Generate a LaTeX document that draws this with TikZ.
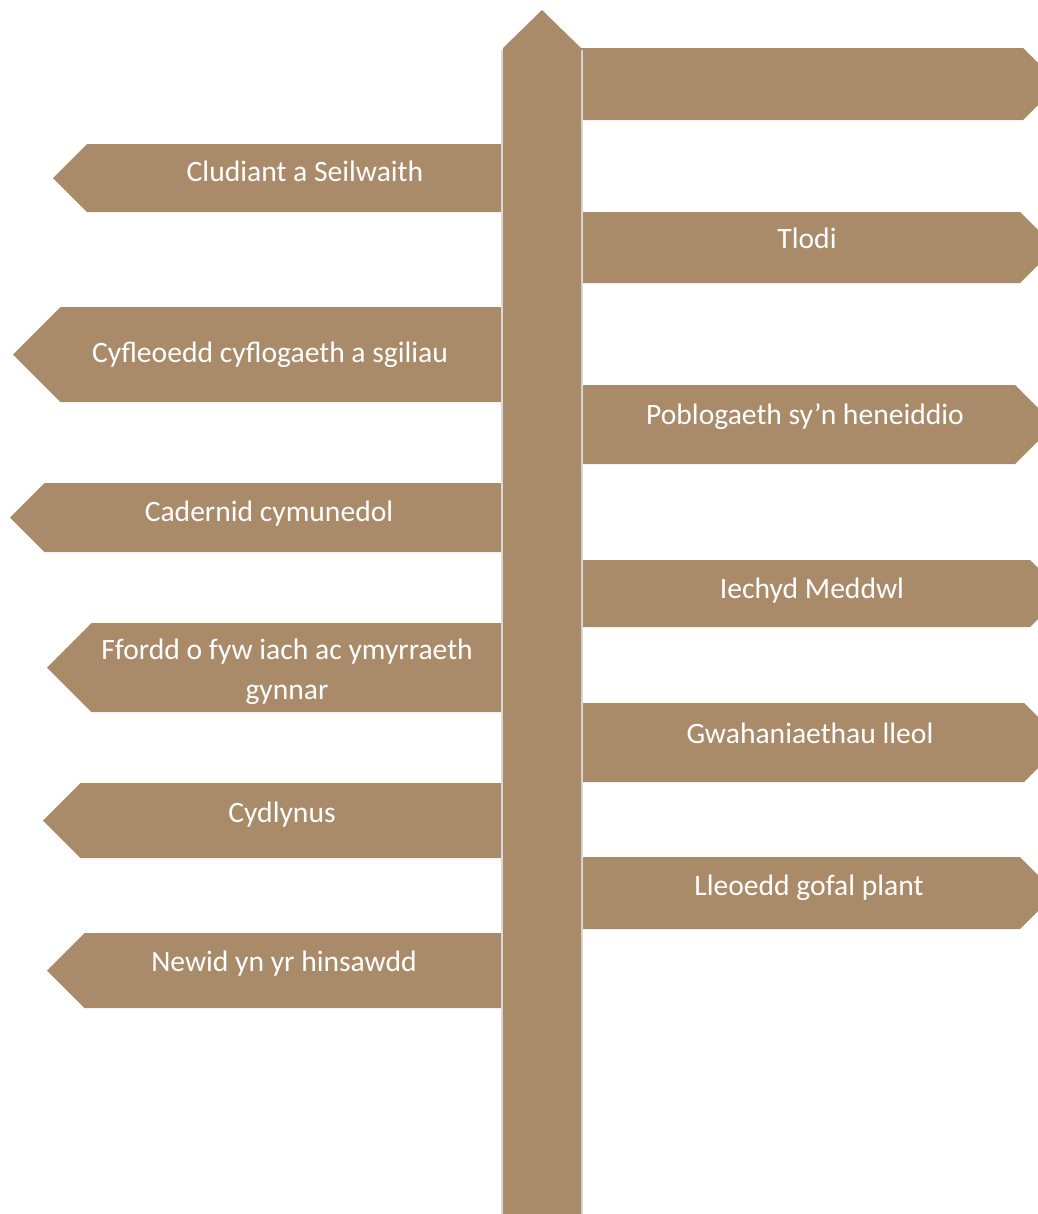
\documentclass[tikz,border=0pt]{standalone}
\usepackage{fontspec}
\setmainfont{Carlito}
\definecolor{post}{RGB}{169,139,106}
% sign pointing west: top, bottom, tip x
\newcommand{\signW}[3]{\fill[post] (520,#1) -- ({#3+(#2-#1)/2},#1) -- (#3,{(#1+#2)/2}) -- ({#3+(#2-#1)/2},#2) -- (520,#2) -- cycle;}
% sign pointing east: top, bottom, corner x
\newcommand{\signE}[3]{\fill[post] (560,#1) -- (#3,#1) -- ({#3+(#2-#1)/2},{(#1+#2)/2}) -- (#3,#2) -- (560,#2) -- cycle;}

\begin{document}
\begin{tikzpicture}
                [
                x=0.75pt,y=-0.75pt,
                signtext/.style={text=white,inner sep=0pt,font=\fontsize{22.2pt}{30pt}\selectfont},
                poleshadow/.style={draw=black!15,line width=1.8pt},
                ]
                \useasboundingbox (0,0) rectangle (1038,1214);
                \clip (0,0) rectangle (1038,1214);
                \signW{144}{212}{53}	\signW{307}{402}{13}	\signW{483}{552}{10}
                \signW{623}{712}{47}	\signW{783}{858}{43}	\signW{933}{1008}{47}
                \signE{48}{120}{1023}	\signE{212}{283}{1020}	\signE{385}{464}{1015}
                \signE{560}{627}{1030}	\signE{703}{782}{1024}	\signE{857}{929}{1020}
                % pole
                \draw[poleshadow] (502.5,50) -- (502.5,1214);
                \draw[poleshadow] (581.5,50) -- (581.5,1214);
                \fill[post] (503,1214) -- (503,48) -- (542,10) -- (581,48) -- (581,1214) -- cycle;
                % labels
                \node[signtext, anchor=base] (cludiant) at (305,181) {Cludiant a Seilwaith};
                \node[signtext, anchor=base] (cyfleoedd) at (270,362) {Cyfleoedd cyflogaeth a sgiliau};
                \node[signtext, anchor=base] (cadernid) at (269,521) {Cadernid cymunedol};
                \node[signtext, align=center] (ffordd) at (287,672) {Ffordd o fyw iach ac ymyrraeth\\gynnar};
                \node[signtext, anchor=base] (cydlynus) at (282,822) {Cydlynus};
                \node[signtext, anchor=base] (newid) at (284,971) {Newid yn yr hinsawdd};
                \node[signtext, anchor=base] (tlodi) at (807,248) {Tlodi};
                \node[signtext, anchor=base] (poblogaeth) at (805,424) {Poblogaeth sy’n heneiddio};
                \node[signtext, anchor=base] (iechyd) at (812,598) {Iechyd Meddwl};
                \node[signtext, anchor=base] (gwahaniaethau) at (810,743) {Gwahaniaethau lleol};
                \node[signtext, anchor=base] (lleoedd) at (809,895) {Lleoedd gofal plant};
            \end{tikzpicture}
\end{document}
